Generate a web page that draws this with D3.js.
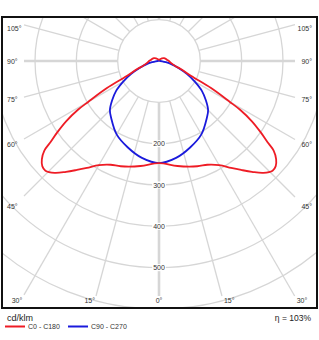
<!DOCTYPE html>
<html><head><meta charset="utf-8">
<script src="https://cdn.jsdelivr.net/npm/d3@7"></script>
<style>html,body{margin:0;padding:0;background:#fff;}svg{display:block;font-family:"Liberation Sans",Arial,sans-serif;}</style>
</head><body>
<svg id="chart" width="319" height="340"></svg>
<script>
// ---- data ----
const ringValues = [100, 200, 300, 400, 500, 600];
const ringLabels = [200, 300, 400, 500];
const sideAngleLabels = [45, 60, 75, 90, 105];
const bottomAngleLabels = [0, 15, 30];
const gridAngles = d3.range(0, 360, 15);

const c0Angles = [0, 10, 20, 25, 30, 34, 37, 40, 43, 46, 48, 50, 52, 53, 55, 57, 59, 60, 62.5, 65, 70, 72.5, 80, 90, 100, 120, 150, 180];
const c0Values = [247, 258, 271, 277, 291, 312, 330, 350, 370, 382, 380, 370, 352, 332, 300, 268, 228, 198, 142, 86, 55, 42, 30, 24, 19, 14, 5, 2];

const c90Angles = [0, 10, 20, 30, 40, 45, 50, 55, 60, 65, 70, 75, 80, 85, 90, 95, 100, 180];
const c90Values = [247, 238, 222, 205, 180, 168, 148, 127, 100, 75, 50, 32, 17, 8, 3, 1, 0, 0];

const legendNames = ["C0 - C180", "C90 - C270"];
const unitLabel = "cd/klm";
const efficiencyLabel = "η = 103%";

// ---- layout ----
const svg = d3.select("#chart");
const frame = {x0: 2, y0: 17, x1: 317, y1: 308};
const cx = 159, cy = 61;
const r = d3.scaleLinear().domain([0, 600]).range([0, 248]);
const inner = {x0: 24, x1: 295, y1: 296};
const rad = d => d * Math.PI / 180;
const gridColor = "#d6d6d6";

svg.append("clipPath").attr("id", "clip").append("rect")
  .attr("x", frame.x0).attr("y", frame.y0)
  .attr("width", frame.x1 - frame.x0).attr("height", frame.y1 - frame.y0);

const g = svg.append("g").attr("clip-path", "url(#clip)");

// rings
g.selectAll("circle.ring").data(ringValues).enter().append("circle")
  .attr("cx", cx).attr("cy", cy).attr("r", d => r(d))
  .attr("fill", "none").attr("stroke", gridColor).attr("stroke-width", 1.3);

// radial lines (angle measured from downward vertical)
function lineEnd(deg) {
  const s = Math.sin(rad(deg)), c = Math.cos(rad(deg));
  let t = Infinity;
  if (s > 1e-6) t = Math.min(t, (inner.x1 - cx) / s);
  if (s < -1e-6) t = Math.min(t, (inner.x0 - cx) / s);
  if (c > 1e-6) t = Math.min(t, (inner.y1 - cy) / c);
  if (c < -1e-6) t = Math.min(t, (frame.y0 - cy) / c);
  return [cx + t * s, cy + t * c];
}
g.selectAll("line.rad").data(gridAngles).enter().append("line")
  .attr("x1", d => cx + r(100) * Math.sin(rad(d)))
  .attr("y1", d => cy + r(100) * Math.cos(rad(d)))
  .attr("x2", d => lineEnd(d)[0])
  .attr("y2", d => lineEnd(d)[1])
  .attr("stroke", gridColor)
  .attr("stroke-width", d => (d % 90 === 0) ? 2.6 : 1.3);

// curves
const line = d3.line().curve(d3.curveCatmullRom.alpha(0.5));
function curvePoints(angles, values) {
  const pts = [];
  for (let i = angles.length - 1; i >= 0; i--) {
    const a = rad(angles[i]), v = r(values[i]);
    pts.push([cx - v * Math.sin(a), cy + v * Math.cos(a)]);
  }
  for (let i = 1; i < angles.length; i++) {
    const a = rad(angles[i]), v = r(values[i]);
    pts.push([cx + v * Math.sin(a), cy + v * Math.cos(a)]);
  }
  return pts;
}
const seriesColors = ["#ee1c25", "#1a1adc"];
g.append("path").attr("d", line(curvePoints(c90Angles, c90Values)))
  .attr("fill", "none").attr("stroke", seriesColors[1]).attr("stroke-width", 1.8);
g.append("path").attr("d", line(curvePoints(c0Angles, c0Values)))
  .attr("fill", "none").attr("stroke", seriesColors[0]).attr("stroke-width", 1.8);

// ring labels
const fs = 7;
ringLabels.forEach(v => {
  const y = cy + r(v);
  const t = svg.append("text").attr("x", cx).attr("y", y).attr("text-anchor", "middle")
    .attr("dominant-baseline", "central").attr("font-size", fs).attr("fill", "#333").text(v);
  const bb = t.node().getBBox();
  svg.insert("rect", () => t.node()).attr("x", bb.x - 1).attr("y", bb.y).attr("width", bb.width + 2).attr("height", bb.height).attr("fill", "#fff");
});

// side angle labels
sideAngleLabels.forEach(d => {
  let y = cy + (cx - 14) * Math.cos(rad(d)) / Math.sin(rad(d));
  y = Math.max(y, 28);
  svg.append("text").attr("x", 7).attr("y", y).attr("dominant-baseline", "central")
    .attr("font-size", fs).attr("fill", "#333").text(d + "°");
  svg.append("text").attr("x", 312).attr("y", y).attr("text-anchor", "end").attr("dominant-baseline", "central")
    .attr("font-size", fs).attr("fill", "#333").text(d + "°");
});
// bottom angle labels
bottomAngleLabels.forEach(d => {
  const dx = (inner.y1 - cy) * Math.tan(rad(d));
  if (d === 0) {
    const t = svg.append("text").attr("x", cx).attr("y", 300).attr("text-anchor", "middle").attr("dominant-baseline", "central")
      .attr("font-size", fs).attr("fill", "#333").text(d + "°");
    const bb = t.node().getBBox();
    svg.insert("rect", () => t.node()).attr("x", bb.x - 1).attr("y", bb.y).attr("width", bb.width + 2).attr("height", bb.height).attr("fill", "#fff");
  } else {
    svg.append("text").attr("x", cx - dx - 1).attr("y", 300).attr("text-anchor", "end").attr("dominant-baseline", "central")
      .attr("font-size", fs).attr("fill", "#333").text(d + "°");
    svg.append("text").attr("x", cx + dx + 2).attr("y", 300).attr("text-anchor", "start").attr("dominant-baseline", "central")
      .attr("font-size", fs).attr("fill", "#333").text(d + "°");
  }
});

// frame
svg.append("rect").attr("x", frame.x0).attr("y", frame.y0)
  .attr("width", frame.x1 - frame.x0).attr("height", frame.y1 - frame.y0)
  .attr("fill", "none").attr("stroke", "#111").attr("stroke-width", 2);

// legend
svg.append("text").attr("x", 7).attr("y", 318).attr("dominant-baseline", "central")
  .attr("font-size", 9).attr("fill", "#222").text(unitLabel);
svg.append("text").attr("x", 311).attr("y", 318).attr("text-anchor", "end").attr("dominant-baseline", "central")
  .attr("font-size", 8.5).attr("fill", "#222").text(efficiencyLabel);
const legX = [5, 68];
legendNames.forEach((n, i) => {
  svg.append("line").attr("x1", legX[i]).attr("x2", legX[i] + 20).attr("y1", 326.5).attr("y2", 326.5)
    .attr("stroke", seriesColors[i]).attr("stroke-width", 2);
  svg.append("text").attr("x", legX[i] + 23).attr("y", 326.5).attr("dominant-baseline", "central")
    .attr("font-size", 7).attr("fill", "#333").text(n);
});
</script>
</body></html>
